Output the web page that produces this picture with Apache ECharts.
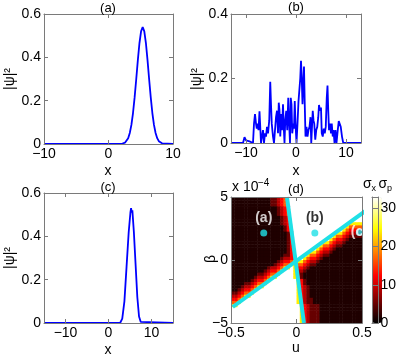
<!DOCTYPE html>
<html><head><meta charset="utf-8">
<script src="https://cdn.jsdelivr.net/npm/echarts@6/dist/echarts.min.js"></script>
<style>html,body{margin:0;padding:0;background:#fff}#c{width:399px;height:357px}</style>
</head><body><div id="c"></div>
<script>
// ---------- data ----------
const aX = [-10, 2.0, 2.3, 2.55, 2.8, 3.05, 3.3, 3.55, 3.8, 4.05, 4.3, 4.55, 4.8, 5.05, 5.3, 5.55, 5.8, 6.05, 6.3, 6.55, 6.8, 7.05, 7.3, 7.55, 7.8, 8.05, 8.3, 8.6, 10];
const aY = [0, 0, 0.003, 0.006, 0.013, 0.027, 0.051, 0.088, 0.143, 0.215, 0.299, 0.387, 0.466, 0.520, 0.540, 0.520, 0.466, 0.387, 0.299, 0.215, 0.143, 0.088, 0.051, 0.027, 0.013, 0.006, 0.003, 0, 0];

const bX = [-13, -10.6, -10.3, -10.0, -9.8, -9.6, -9.3, -9.1, -8.6, -8.4, -8.2, -8.0, -7.85, -7.7, -7.5, -7.3, -7.15, -7.0, -6.8, -6.6, -6.4, -6.2, -6.0, -5.8, -5.6, -5.35, -5.15, -5.0, -4.85, -4.6, -4.4, -4.2, -4.0, -3.8, -3.6, -3.45, -3.3, -3.15, -2.95, -2.8, -2.6, -2.45, -2.3, -2.15, -1.95, -1.75, -1.55, -1.4, -1.2, -1.05, -0.9, -0.75, -0.55, -0.4, -0.25, -0.1, 0.1, 0.3, 0.5, 0.7, 0.85, 1.0, 1.15, 1.3, 1.45, 1.6, 1.75, 1.9, 2.1, 2.3, 2.5, 2.7, 2.9, 3.05, 3.2, 3.35, 3.5, 3.65, 3.85, 4.05, 4.25, 4.45, 4.6, 4.8, 5.0, 5.15, 5.35, 5.55, 5.75, 5.95, 6.15, 6.3, 6.45, 6.6, 6.8, 7.0, 7.15, 7.35, 7.5, 7.7, 7.9, 8.1, 8.35, 8.55, 8.75, 8.95, 9.2, 9.45, 13];
const bY = [0, 0, 0.018, 0.008, 0.004, 0.012, 0.005, 0, 0, 0.06, 0.09, 0.06, 0.045, 0.06, 0.04, 0.098, 0.05, 0.0, 0.02, 0.04, 0.0, 0.03, 0.02, 0.05, 0.03, 0.07, 0.19, 0.12, 0.06, 0.02, 0.0, 0.04, 0.08, 0.1, 0.03, 0.125, 0.1, 0.02, 0.09, 0.04, 0.12, 0.05, 0.0, 0.07, 0.1, 0.04, 0.14, 0.07, 0.0, 0.14, 0.12, 0.03, 0.06, 0.045, 0.13, 0.06, 0.0, 0.06, 0.13, 0.13, 0.2, 0.255, 0.2, 0.12, 0.18, 0.237, 0.12, 0.02, 0.05, 0.02, 0.04, 0.05, 0.08, 0.0, 0.05, 0.1, 0.07, 0.06, 0.01, 0.04, 0.05, 0.08, 0.118, 0.1, 0.11, 0.03, 0.02, 0.045, 0.03, 0.05, 0.14, 0.178, 0.1, 0.04, 0.06, 0.03, 0.06, 0.02, 0.04, 0.0, 0.04, 0.0, 0.04, 0.068, 0.065, 0.05, 0.02, 0.0, 0];

const cX = [-15, -12.8, -12.4, -12.0, 2.7, 3.2, 3.7, 4.2, 4.7, 5.1, 5.25, 5.4, 5.55, 5.9, 6.3, 6.7, 7.1, 7.5, 7.8, 15];
const cY = [0, 0, 0.006, 0, 0, 0.02, 0.1, 0.26, 0.42, 0.51, 0.53, 0.51, 0.52, 0.42, 0.27, 0.12, 0.03, 0.005, 0, 0];

const ticksAx = [-10, 0, 10], ticksAy = [0, 0.2, 0.4, 0.6];
const ticksBx = [-10, 0, 10], ticksBy = [0, 0.2, 0.4];
const ticksCx = [-10, 0, 10], ticksCy = [0, 0.2, 0.4, 0.6];
const ticksDu = [-0.5, 0, 0.5], ticksDb = [-5, 0, 5];
const ticksBar = [0, 10, 20, 30];

// heat map cells: u centres (columns) and beta centres in units of 1e-4 (rows, top to bottom)
const uCells = [-0.4875,-0.4625,-0.4375,-0.4125,-0.3875,-0.3625,-0.3375,-0.3125,-0.2875,-0.2625,-0.2375,-0.2125,-0.1875,-0.1625,-0.1375,-0.1125,-0.0875,-0.0625,-0.0375,-0.0125,0.0125,0.0375,0.0625,0.0875,0.1125,0.1375,0.1625,0.1875,0.2125,0.2375,0.2625,0.2875,0.3125,0.3375,0.3625,0.3875,0.4125,0.4375,0.4625,0.4875];
const betaCells = [4.875,4.625,4.375,4.125,3.875,3.625,3.375,3.125,2.875,2.625,2.375,2.125,1.875,1.625,1.375,1.125,0.875,0.625,0.375,0.125,-0.125,-0.375,-0.625,-0.875,-1.125,-1.375,-1.625,-1.875,-2.125,-2.375,-2.625,-2.875,-3.125,-3.375,-3.625,-3.875,-4.125,-4.375,-4.625,-4.875];
const mapRows = [
"............ddrRoWWWWWWWWWWWWWWWWWWWWWWW",
"............ddrRoWWWWWWWWWWWWWWWWWWWWWWW",
"............ddrRoWWWWWWWWWWWWWWWWWWWWWWW",
"..............drRoWWWWWWWWWWWWWWWWWWWWWW",
"..............drRoWWWWWWWWWWWWWWWWWWWWWW",
"..............drRoWWWWWWWWWWWWWWWWWWWWWW",
"...............drRWWWWWWWWWWWWWWWWWWWWWW",
"...............drRWWWWWWWWWWWWWWWWWWWWWW",
"...............drRWWWWWWWWWWWWWWWWWWyyyy",
"................dRWWWWWWWWWWWWWWWWWyoooo",
"................dRWWWWWWWWWWWWWWWWyoRRRR",
".................dRWWWWWWWWWWWWWyyoRrrrr",
".................dRWWWWWWWWWWWWyooRrdddd",
".................dRWWWWWWWWWWWyoRRrd....",
".................dRWWWWWWWWWyyoRrrd.....",
".................dRWWWWWWWWyooRrdd......",
".................dRWWWWWWWyoRRrd........",
".................dRWWWWWyyoRrrd.........",
"................ddRWWWWyooRrdd..........",
"...............drrRRWWyoRRrd............",
"..............drRRoyyyoRrrd.............",
".............drRooyyooRrdd..............",
"...........drrRoyyWyRRrd................",
"..........drRRoyWWWyrrd.................",
"........ddrRooyWWWWyrd..................",
".......drrRoyyWWWWWyRd..................",
"......drRRoyWWWWWWWWyRd.................",
"....ddrRooyWWWWWWWWWyRd.................",
"...drrRoyyWWWWWWWWWWyRrd................",
"..drRRoyWWWWWWWWWWWWyRrd................",
"ddrRooyWWWWWWWWWWWWWyRrd................",
"rrRoyyWWWWWWWWWWWWWWyRrd................",
"RRoyWWWWWWWWWWWWWWWWyRrdd...............",
"ooyWWWWWWWWWWWWWWWWWyRrdd...............",
"yyWWWWWWWWWWWWWWWWWWWyRrddd.............",
"WWWWWWWWWWWWWWWWWWWWWyRrddd.............",
"WWWWWWWWWWWWWWWWWWWWWyRrddd.............",
"WWWWWWWWWWWWWWWWWWWWWyRrddd.............",
"WWWWWWWWWWWWWWWWWWWWWyRrddd.............",
"WWWWWWWWWWWWWWWWWWWWWyRrddd............."
];
const levelValues = {'.': 1.5, 'd': 5, 'r': 9, 'R': 12.5, 'o': 17, 'y': 24, 'W': 33};
const colorMax = 33;

const steepLine = [[-0.073, 5], [0.057, -5]];
const shallowLine = [[-0.487, -3.73], [0.536, 3.97]];
const markU = [-0.25, 0.14, 0.48];
const markB = [2.15, 2.15, 2.2];
const markNames = ['(a)', '(b)', '(c)'];

// ---------- chart ----------
const FONT = '"Liberation Sans", Arial, Helvetica, sans-serif';
const FRAME = '#7a7a7a';
const HOT = ['#000000', '#550000', '#aa0000', '#ff0000', '#ff5500', '#ffaa00', '#ffff00', '#ffff80', '#ffffff'];
const zip = (xs, ys) => xs.map((x, i) => [x, ys[i]]);
const fmt = v => String(Math.round(v * 100) / 100).replace('-', '\u2212');
// MATLAB "hot" colour scale (same stops as the visualMap colour bar)
function hotColor(v) {
  const t = Math.max(0, Math.min(1, v / colorMax));
  const c = x => Math.round(255 * Math.max(0, Math.min(1, x)));
  return 'rgb(' + c(t / 0.375) + ',' + c((t - 0.375) / 0.375) + ',' + c((t - 0.75) / 0.25) + ')';
}

const heatData = [];
mapRows.forEach((row, j) => {
  for (let i = 0; i < uCells.length; i++) {
    heatData.push([uCells[i], betaCells[j], levelValues[row.charAt(i)]]);
  }
});
const du = Math.abs(uCells[1] - uCells[0]);
const dbeta = Math.abs(betaCells[1] - betaCells[0]);

function ax(gi, min, max, ticks, pos, showLabel, extra) {
  const o = {
    type: 'value', gridIndex: gi, min: min, max: max, position: pos, z: 10,
    axisLine: {show: true, onZero: false, lineStyle: {color: FRAME, width: 1}},
    axisTick: {show: true, inside: true, length: 4, customValues: ticks, lineStyle: {color: FRAME}},
    axisLabel: {show: showLabel, customValues: ticks, formatter: fmt, color: '#000', fontSize: 14, fontFamily: FONT, margin: 3},
    splitLine: {show: false}
  };
  return Object.assign(o, extra || {});
}

const grids = [
  {left: 44, top: 14, width: 129, height: 130},
  {left: 231, top: 14, width: 130, height: 129},
  {left: 44, top: 193, width: 129, height: 130},
  {left: 231, top: 197, width: 131, height: 126},
  {left: 372, top: 197, width: 10, height: 126}
];

const xAxes = [
  ax(0, -10, 10, ticksAx, 'bottom', true),
  ax(0, -10, 10, ticksAx, 'top', false),
  ax(1, -13, 13, ticksBx, 'bottom', true),
  ax(1, -13, 13, ticksBx, 'top', false),
  ax(2, -15, 15, ticksCx, 'bottom', true),
  ax(2, -15, 15, ticksCx, 'top', false),
  ax(3, -0.5, 0.5, ticksDu, 'bottom', true),
  ax(3, -0.5, 0.5, ticksDu, 'top', false),
  ax(4, 0, 1, [], 'bottom', false, {axisTick: {show: false}}),
  ax(4, 0, 1, [], 'top', false, {axisTick: {show: false}})
];
const yAxes = [
  ax(0, 0, 0.6, ticksAy, 'left', true),
  ax(0, 0, 0.6, ticksAy, 'right', false),
  ax(1, 0, 0.4, ticksBy, 'left', true),
  ax(1, 0, 0.4, ticksBy, 'right', false),
  ax(2, 0, 0.6, ticksCy, 'left', true),
  ax(2, 0, 0.6, ticksCy, 'right', false),
  ax(3, -5, 5, ticksDb, 'left', true),
  ax(3, -5, 5, ticksDb, 'right', false),
  ax(4, 0, colorMax, ticksBar, 'left', false, {axisTick: {show: true, inside: true, length: 3, customValues: ticksBar, lineStyle: {color: FRAME}}}),
  ax(4, 0, colorMax, ticksBar, 'right', true)
];
yAxes[9].axisLabel.margin = 2;

const blueLine = (xi, yi, data) => ({
  type: 'line', xAxisIndex: xi, yAxisIndex: yi, data: data, showSymbol: false, symbol: 'none',
  lineStyle: {color: '#0000ff', width: 1.8}, z: 3, silent: true
});
const CYAN = '#1fe0e6';

const txt = (t, x, y, size, opts) => Object.assign({
  type: 'text', x: x, y: y, silent: true, z: 100,
  style: {text: t, font: (opts && opts.bold ? 'bold ' : '') + size + 'px ' + FONT, fill: (opts && opts.fill) || '#000',
    align: (opts && opts.align) || 'center', verticalAlign: 'middle',
    textAlign: (opts && opts.align) || 'center', textVerticalAlign: 'middle'}
}, opts && opts.rot ? {rotation: opts.rot} : {});

const option = {
  animation: false,
  backgroundColor: '#ffffff',
  grid: grids,
  xAxis: xAxes,
  yAxis: yAxes,
  visualMap: {
    type: 'continuous', min: 0, max: colorMax, seriesIndex: 3, dimension: 2, calculable: false,
    orient: 'vertical', left: 372, top: 197, itemWidth: 10, itemHeight: 126, padding: 0,
    hoverLink: false, inRange: {color: HOT}
  },
  series: [
    blueLine(0, 0, zip(aX, aY)),
    blueLine(2, 2, zip(bX, bY)),
    blueLine(4, 4, zip(cX, cY)),
    {
      type: 'custom', xAxisIndex: 6, yAxisIndex: 6, data: heatData,
      encode: {x: 0, y: 1},
      renderItem: function (params, api) {
        const u = api.value(0), b = api.value(1), v = api.value(2);
        const p0 = api.coord([u - du / 2, b + dbeta / 2]);
        const p1 = api.coord([u + du / 2, b - dbeta / 2]);
        return {
          type: 'rect',
          shape: {x: p0[0], y: p0[1], width: p1[0] - p0[0] + 0.5, height: p1[1] - p0[1] + 0.5},
          style: {fill: hotColor(v)}
        };
      }
    },
    {type: 'line', xAxisIndex: 6, yAxisIndex: 6, data: steepLine, showSymbol: false, symbol: 'none', clip: false,
      lineStyle: {color: CYAN, width: 4}, z: 4, silent: true},
    {type: 'line', xAxisIndex: 6, yAxisIndex: 6, data: shallowLine, showSymbol: false, symbol: 'none', clip: false,
      lineStyle: {color: CYAN, width: 4}, z: 4, silent: true},
    {type: 'scatter', xAxisIndex: 6, yAxisIndex: 6, symbolSize: 7, clip: false, z: 5, silent: true,
      itemStyle: {color: CYAN},
      data: markU.map((u, i) => ({
        value: [u, markB[i]], name: markNames[i],
        label: i === 2 ? {position: 'inside', offset: [-10, 19]} : (i === 1 ? {position: 'top', distance: 4, color: '#000'} : {position: 'top', distance: 4})
      })),
      label: {show: true, formatter: '{b}', color: '#ffffff', fontWeight: 'bold', fontSize: 14, fontFamily: FONT},
      labelLayout: {hideOverlap: false}
    }
  ],
  graphic: [
    txt('(a)', 108, 8, 13),
    txt('(b)', 296, 7.5, 13),
    txt('(c)', 108, 187.5, 13),
    txt('(d)', 296, 189, 13),
    txt('x', 108, 171, 14),
    txt('x', 296, 171, 14),
    txt('x', 108, 350, 14),
    txt('u', 296, 348, 14),
    txt('|\u03c8|\u00b2', 10, 79, 14, {rot: Math.PI / 2}),
    txt('|\u03c8|\u00b2', 197, 79, 14, {rot: Math.PI / 2}),
    txt('|\u03c8|\u00b2', 10, 258, 14, {rot: Math.PI / 2}),
    txt('\u03b2', 211, 259, 14, {rot: Math.PI / 2}),
    txt('x 10', 232, 187.5, 14, {align: 'left'}),
    txt('\u22124', 258, 183, 10, {align: 'left'}),
    txt('\u03c3', 363, 184, 14, {align: 'left'}),
    txt('x', 371.5, 189, 9, {align: 'left'}),
    txt('\u03c3', 378.5, 184, 14, {align: 'left'}),
    txt('p', 387, 189, 9, {align: 'left'})
  ]
};

const chart = echarts.init(document.getElementById('c'), null, {renderer: 'canvas'});
chart.setOption(option);
</script>
</body></html>
